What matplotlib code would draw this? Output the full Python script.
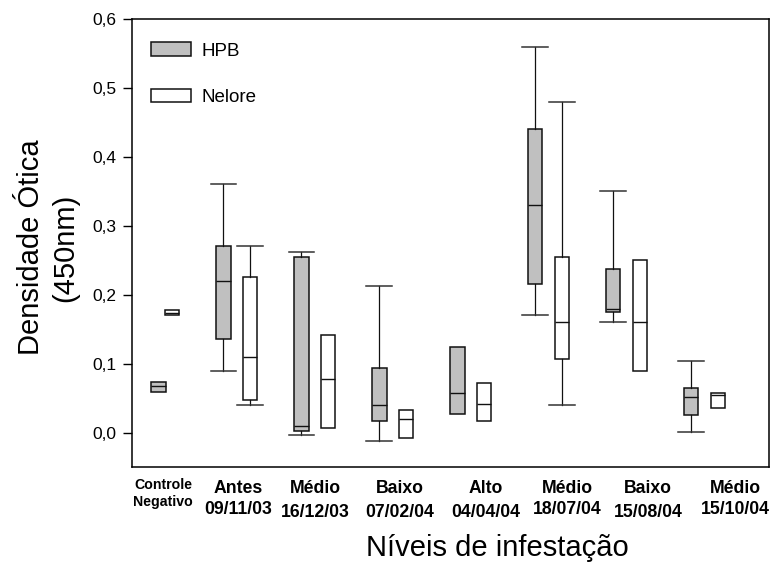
import matplotlib
matplotlib.use("Agg")
import matplotlib.pyplot as plt
import matplotlib.transforms as mtransforms
from matplotlib.patches import Patch

plt.rcParams['font.family'] = ['Liberation Sans', 'DejaVu Sans']

#====================== data
groups = ["Controle\nNegativo", "Antes\n09/11/03", "Médio\n16/12/03", "Baixo\n07/02/04",
          "Alto\n04/04/04", "Médio\n18/07/04", "Baixo\n15/08/04", "Médio\n15/10/04"]

# HPB: whisker low, q1, median, q3, whisker high (None = no whisker drawn)
hpb_lo  = [None, 0.090, -0.003, -0.012, None, 0.170, 0.160, 0.001]
hpb_q1  = [0.059, 0.135, 0.002, 0.017, 0.027, 0.215, 0.175, 0.026]
hpb_med = [0.067, 0.220, 0.010, 0.040, 0.058, 0.330, 0.179, 0.052]
hpb_q3  = [0.0735, 0.270, 0.254, 0.093, 0.124, 0.440, 0.237, 0.065]
hpb_hi  = [None, 0.360, 0.262, 0.212, None, 0.560, 0.350, 0.104]

# Nelore
nel_lo  = [None, 0.040, None, None, None, 0.040, None, None]
nel_q1  = [0.171, 0.047, 0.007, -0.008, 0.017, 0.107, 0.090, 0.036]
nel_med = [0.174, 0.110, 0.078, 0.019, 0.041, 0.160, 0.160, 0.054]
nel_q3  = [0.178, 0.225, 0.142, 0.032, 0.072, 0.255, 0.250, 0.058]
nel_hi  = [None, 0.270, None, None, None, 0.480, None, None]

yticks = [0.0, 0.1, 0.2, 0.3, 0.4, 0.5, 0.6]
ytick_labels = ["0,0", "0,1", "0,2", "0,3", "0,4", "0,5", "0,6"]

#====================== layout
hpb_pos = [0.0, 0.833, 1.833, 2.833, 3.833, 4.833, 5.833, 6.833]
nel_pos = [0.173, 1.167, 2.167, 3.167, 4.167, 5.167, 6.167, 7.167]
label_x = [0.058, 1.019, 2.006, 3.096, 4.199, 5.237, 6.276, 7.391]
label_low = [False, False, True, True, True, False, True, False]


def make_stats(lo, q1, med, q3, hi):
    stats = []
    for a, b, c, d, e in zip(lo, q1, med, q3, hi):
        stats.append({'whislo': b if a is None else a, 'q1': b, 'med': c,
                      'q3': d, 'whishi': d if e is None else e, 'fliers': []})
    return stats


fig = plt.figure(figsize=(7.72, 5.65), dpi=100)
ax = fig.add_axes([132/772, 1-467/565, 637/772, 448/565])

for stats, pos, fc, lo, hi in [
        (make_stats(hpb_lo, hpb_q1, hpb_med, hpb_q3, hpb_hi), hpb_pos, '#c0c0c0', hpb_lo, hpb_hi),
        (make_stats(nel_lo, nel_q1, nel_med, nel_q3, nel_hi), nel_pos, 'white', nel_lo, nel_hi)]:
    art = ax.bxp(stats, positions=pos, widths=0.18, capwidths=0.333,
                 patch_artist=True, showfliers=False, manage_ticks=False,
                 boxprops=dict(facecolor=fc, edgecolor='#111111', linewidth=1.1),
                 medianprops=dict(color='#111111', linewidth=1.0),
                 whiskerprops=dict(color='#111111', linewidth=0.9),
                 capprops=dict(color='#333333', linewidth=1.1))
    for i in range(len(stats)):
        if lo[i] is None:
            art['caps'][2*i].set_visible(False)
            art['whiskers'][2*i].set_visible(False)
        if hi[i] is None:
            art['caps'][2*i+1].set_visible(False)
            art['whiskers'][2*i+1].set_visible(False)

ax.set_xlim(-0.340, 7.827)
ax.set_ylim(-0.05, 0.6)
ax.set_yticks(yticks)
ax.set_yticklabels(ytick_labels, fontsize=12.5)
ax.tick_params(axis='y', direction='out', length=6.5, width=1.0, pad=5)
ax.set_xticks([])
for s in ax.spines.values():
    s.set_linewidth(1.1)

# x category labels (two lines, like the original)
trans = mtransforms.blended_transform_factory(ax.transData, fig.transFigure)
for i, lab in enumerate(groups):
    top, bottom = lab.split("\n")
    if i == 0:
        ax.text(label_x[i], 1-478/565, top, transform=trans, ha='center', va='top',
                fontsize=10.2, fontweight='bold')
        ax.text(label_x[i], 1-495/565, bottom, transform=trans, ha='center', va='top',
                fontsize=10.2, fontweight='bold')
    else:
        ax.text(label_x[i], 1-480/565, top, transform=trans, ha='center', va='top',
                fontsize=12.7, fontweight='bold')
        y2 = 504 if label_low[i] else 501
        ax.text(label_x[i], 1-y2/565, bottom, transform=trans, ha='center', va='top',
                fontsize=12.7, fontweight='bold')

ax.set_ylabel("Densidade Ótica\n(450nm)", fontsize=21, linespacing=1.3)
ax.yaxis.set_label_coords(-0.083, 0.49)
ax.set_xlabel("Níveis de infestação", fontsize=21)
ax.xaxis.set_label_coords(0.573, -0.150)

handles = [Patch(facecolor='#c0c0c0', edgecolor='#111111', linewidth=1.1),
           Patch(facecolor='white', edgecolor='#111111', linewidth=1.1)]
ax.legend(handles, ["HPB", "Nelore"], loc='upper left', bbox_to_anchor=(0.030, 0.948),
          frameon=False, fontsize=13.5, handlelength=2.15, handleheight=0.75,
          handletextpad=0.55, labelspacing=1.55, borderpad=0, borderaxespad=0)

plt.savefig("out.png", dpi=100)
